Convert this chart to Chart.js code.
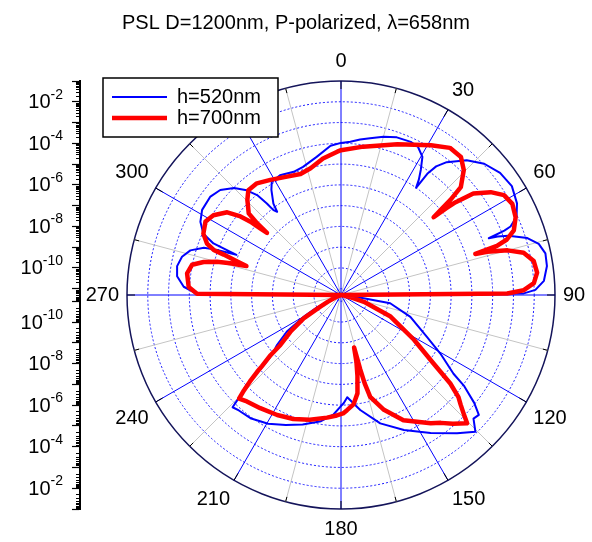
<!DOCTYPE html>
<html>
<head>
<meta charset="utf-8">
<script src="https://cdn.jsdelivr.net/npm/chart.js@4.4.1/dist/chart.umd.min.js"></script>
<style>
  html, body { margin: 0; padding: 0; background: #ffffff; }
  canvas { display: block; }
</style>
</head>
<body>
<canvas id="c" width="592" height="542"></canvas>
<script>
// ---- data (angle in degrees clockwise from top, log10 of intensity) ----
const seriesNames = ['h=520nm', 'h=700nm'];

const blueAngles = [0,3.5,7,10.5,15,19.5,24.5,27.5,30.5,32.5,34,35,35.5,36.5,38.5,43,47.5,52.5,57.5,62.5,66,68,68.5,69,69.5,70.5,73,75.5,78.5,82,86,88.5,89.5,90,95,97,98,99.5,107.5,116,120.5,125,126.5,129,131,133,135.5,140,147,155,163,170.5,176.5,178.5,180.5,183.5,189,196.5,203,209.5,216,221.5,224,225,226,226.5,227,228,229,232,236,240,242,244,246,250,270,270.5,273,276.5,280,283.5,286.5,289,290,290.5,291,291.5,292,294,297.5,301.5,307,311,315,318,320,321,321.5,322.5,323.5,326.5,328.5,333,339,343.5,350,356];
const blueLog10 = [-3.98,-3.91,-3.76,-3.63,-3.41,-3.25,-3.2,-3.27,-3.58,-4.15,-4.6,-5.0,-4.1,-3.6,-3.13,-2.43,-1.95,-1.65,-1.55,-1.75,-2.05,-2.5,-2.85,-3.68,-3.25,-2.75,-1.92,-1.47,-1.26,-1.29,-1.51,-1.94,-2.5,-11.3,-11.1,-10.8,-10.2,-8.9,-7.8,-6.7,-5.75,-4.69,-3.92,-3.05,-2.51,-2.58,-2.07,-2.61,-3.38,-4.13,-4.84,-5.69,-6.37,-6.1,-5.9,-5.55,-5.15,-4.8,-4.5,-4.18,-3.95,-3.88,-3.79,-4.45,-4.85,-5.1,-5.8,-6.4,-6.9,-7.39,-8.16,-9.3,-9.9,-10.5,-10.9,-11.3,-11.3,-4.37,-3.72,-3.36,-3.29,-3.43,-3.74,-4.32,-4.95,-5.45,-5.91,-5.4,-4.68,-4.05,-3.67,-3.46,-3.43,-3.6,-4.02,-4.52,-5.02,-5.63,-6.08,-6.25,-5.83,-5.23,-4.92,-4.83,-4.95,-4.87,-4.55,-4.1];

const redAngles = [0,8.5,20.5,31,36.5,41,44.5,48,49,49.5,50,50.5,51,52.5,55.5,58.5,62,66,69.5,71.5,72.5,73,73.5,75,77,80,83.5,86.5,88.5,89.5,90,100,104,106.5,113.5,121.5,126.5,129,131,132.5,134,135.5,139,142,145,153.5,159.5,164,165,165.5,166,167,168.5,170.5,173.5,177,179,182,186.5,194,201,208,215.5,221.5,224.5,225.5,226.5,227.5,228,229.5,230.5,234,238,240.5,243,246,250,270,270.5,273,278,281.5,283.5,285,286,286.5,287,288,289,289.5,291,294,298.5,302,306,308,309,309.5,310,310.5,311.5,315.5,318.5,323,328.5,335.5,341.5,346.5,352.5,358.5];
const redLog10 = [-4.33,-4.08,-3.55,-2.89,-2.49,-2.5,-2.87,-3.54,-4.32,-5.0,-5.48,-4.75,-4.2,-3.27,-2.56,-2.1,-1.96,-2.1,-2.42,-2.88,-3.43,-4.54,-3.96,-3.0,-2.28,-1.88,-1.8,-2.0,-2.5,-3.3,-11.3,-11.2,-10.7,-10.15,-8.7,-7.18,-5.76,-4.53,-3.81,-3.49,-3.1,-2.64,-3.09,-3.49,-3.77,-4.57,-5.4,-6.2,-6.9,-7.6,-8.7,-8.0,-7.33,-6.5,-6.0,-5.75,-5.6,-5.5,-5.36,-5.11,-4.91,-4.76,-4.61,-4.46,-4.3,-4.75,-5.26,-5.83,-6.17,-6.84,-7.52,-8.29,-9.18,-10.16,-10.6,-11.0,-11.3,-11.3,-4.37,-3.96,-3.82,-3.99,-4.5,-5.12,-5.76,-6.24,-6.54,-6.0,-5.33,-4.8,-4.39,-4.05,-3.88,-4.06,-4.53,-5.16,-5.69,-6.26,-6.65,-6.0,-5.37,-4.87,-4.57,-4.57,-4.8,-5.04,-5.16,-5.03,-4.67,-4.4];

const angleTickLabels = [0, 30, 60, 90, 120, 150, 180, 210, 240, 270, 300, 330];
const ringExponents = [-11, -10, -9, -8, -7, -6, -5, -4, -3, -2, -1];
const axisLabelExponents = [-2, -4, -6, -8, -10];
const CENTER_LOG = Math.log10(5e-12);   // radial axis starts at 5e-12
const OUTER_LOG = -1;                   // and ends at 1e-1
const STEP = 0.5;                       // angular resolution of the category ring
// ---------------------------------------------------------------------------------------------

const N = Math.round(360 / STEP);
const SPAN = OUTER_LOG - CENTER_LOG;
const AXIS_WIDTH = 80;
const LEGEND_LEFT = 111, LEGEND_TOP = 86;
const FONT = "'Liberation Sans', Arial, Helvetica, sans-serif";

const ringLabels = Array.from({length: N}, (_, i) => {
  const a = i * STEP;
  return angleTickLabels.includes(a) ? String(a) : '';
});
function toSeries(angles, logs) {
  const arr = new Array(N).fill(null);
  angles.forEach((a, k) => { arr[Math.round(a / STEP) % N] = logs[k]; });
  return arr;
}

const yTickValues = [];
ringExponents.forEach(e => { const d = e - CENTER_LOG; yTickValues.push(d, -d); });
yTickValues.sort((a, b) => a - b);

Chart.defaults.font.family = FONT;
Chart.defaults.color = '#000';

const polarExtras = {
  id: 'polarExtras',
  afterLayout(chart) {
    const r = chart.scales.r, y = chart.scales.y;
    y.top = r.yCenter - r.drawingArea;
    y.bottom = r.yCenter + r.drawingArea;
    y.height = y.bottom - y.top;
    y.configure();
    const lg = chart.legend;
    const dx = LEGEND_LEFT - lg.left, dy = LEGEND_TOP - lg.top;
    lg.left += dx; lg.right += dx; lg.top += dy; lg.bottom += dy;
  },
  beforeDatasetsDraw(chart) {
    const ctx = chart.ctx, r = chart.scales.r, y = chart.scales.y;
    ctx.save();
    // angular axis ticks on the outer ring
    ctx.strokeStyle = '#000';
    ctx.lineWidth = 1;
    for (let i = 0; i < N; i++) {
      const a = i * STEP;
      if (a % 15 !== 0) continue;
      const len = a % 30 === 0 ? 8 : 5;
      const p1 = r.getPointPosition(i, r.drawingArea);
      const p2 = r.getPointPosition(i, r.drawingArea - len);
      ctx.beginPath(); ctx.moveTo(p1.x, p1.y); ctx.lineTo(p2.x, p2.y); ctx.stroke();
    }
    // minor log ticks of the left axis
    for (let e = -12; e <= -2; e++) {
      for (let k = 2; k <= 9; k++) {
        const L = e + Math.log10(k);
        if (L < CENTER_LOG - 1e-9 || L > OUTER_LOG) continue;
        const d = L - CENTER_LOG;
        [1, -1].forEach(s => {
          const py = Math.round(y.getPixelForValue(s * d)) + 0.5;
          ctx.beginPath(); ctx.moveTo(y.right - 4, py); ctx.lineTo(y.right, py); ctx.stroke();
        });
      }
    }
    // left axis labels: 10 with a raised exponent
    ctx.fillStyle = '#000';
    ctx.textBaseline = 'middle';
    const xRight = y.right - 17;
    axisLabelExponents.forEach(e => {
      const d = e - CENTER_LOG;
      [1, -1].forEach(s => {
        const py = y.getPixelForValue(s * d);
        ctx.font = "14px " + FONT;
        const expText = String(e);
        const ew = ctx.measureText(expText).width;
        ctx.textAlign = 'left';
        ctx.fillText(expText, xRight - ew, py - 7);
        ctx.font = "20px " + FONT;
        ctx.textAlign = 'right';
        ctx.fillText('10', xRight - ew, py + 1);
      });
    });
    // legend frame with white background
    const fx = LEGEND_LEFT - 8, fy = LEGEND_TOP - 8;
    ctx.fillStyle = '#fff';
    ctx.fillRect(fx, fy, 175, 59);
    ctx.strokeStyle = '#000';
    ctx.lineWidth = 1.5;
    ctx.strokeRect(fx, fy, 175, 59);
    ctx.restore();
    chart.legend.draw();
  }
};

new Chart(document.getElementById('c'), {
  type: 'radar',
  data: {
    labels: ringLabels,
    datasets: [
      {
        label: seriesNames[0], data: toSeries(blueAngles, blueLog10),
        borderColor: '#0000ff', backgroundColor: 'rgba(0,0,0,0)', borderWidth: 2,
        pointBorderColor: '#0000ff', pointBorderWidth: 2,
        pointRadius: 0, pointHoverRadius: 0, fill: false, spanGaps: true,
        borderJoinStyle: 'round', order: 2
      },
      {
        label: seriesNames[1], data: toSeries(redAngles, redLog10),
        borderColor: '#ff0000', backgroundColor: 'rgba(0,0,0,0)', borderWidth: 4.5,
        pointBorderColor: '#ff0000', pointBorderWidth: 4.5,
        pointRadius: 0, pointHoverRadius: 0, fill: false, spanGaps: true,
        borderJoinStyle: 'round', order: 1
      }
    ]
  },
  options: {
    responsive: false,
    animation: false,
    devicePixelRatio: 1,
    layout: { padding: { left: 0, right: 0, top: 0, bottom: 1 } },
    plugins: {
      title: {
        display: true,
        text: 'PSL D=1200nm, P-polarized, \u03BB=658nm',
        color: '#000',
        font: { size: 20, weight: 'normal' },
        padding: { top: 11, bottom: 14 }
      },
      legend: {
        position: 'chartArea',
        align: 'start',
        labels: {
          usePointStyle: true, pointStyle: 'line', pointStyleWidth: 55,
          padding: 1, color: '#000', font: { size: 20 },
          sort: (a, b) => a.datasetIndex - b.datasetIndex
        }
      },
      tooltip: { enabled: false }
    },
    scales: {
      r: {
        min: CENTER_LOG, max: OUTER_LOG, beginAtZero: false, startAngle: 0,
        afterBuildTicks: (s) => { s.ticks = [CENTER_LOG, ...ringExponents].map(v => ({ value: v })); },
        ticks: { display: false },
        grid: {
          circular: true,
          color: (c) => (c.tick && c.tick.value === OUTER_LOG ? '#14145a' : '#1a1aff'),
          lineWidth: (c) => (c.index === 0 ? 0 : (c.tick && c.tick.value === OUTER_LOG ? 1.5 : 1)),
          borderDash: (c) => (c.tick && c.tick.value === OUTER_LOG ? [] : [2, 2])
        },
        border: { dash: (c) => (c.tick && c.tick.value === OUTER_LOG ? [] : [2, 2]) },
        angleLines: {
          color: (c) => ((c.index * STEP) % 30 === 0 ? '#0000ff' : '#c4c4c4'),
          lineWidth: (c) => ((c.index * STEP) % 15 === 0 ? 1 : 0)
        },
        pointLabels: { padding: 8, color: '#000', font: { size: 20 } }
      },
      y: {
        type: 'linear', position: 'left', min: -SPAN, max: SPAN,
        afterFit: (s) => { s.width = AXIS_WIDTH; s.paddingTop = 0; s.paddingBottom = 0; },
        afterBuildTicks: (s) => { s.ticks = yTickValues.map(v => ({ value: v })); },
        ticks: { autoSkip: false, padding: 8, display: true, callback: () => '' },
        grid: { drawOnChartArea: false, drawTicks: true, tickLength: 8, tickColor: '#000', tickWidth: 1.2, color: '#000' },
        border: { display: true, color: '#000', width: 2 }
      }
    }
  },
  plugins: [polarExtras]
});
</script>
</body>
</html>
